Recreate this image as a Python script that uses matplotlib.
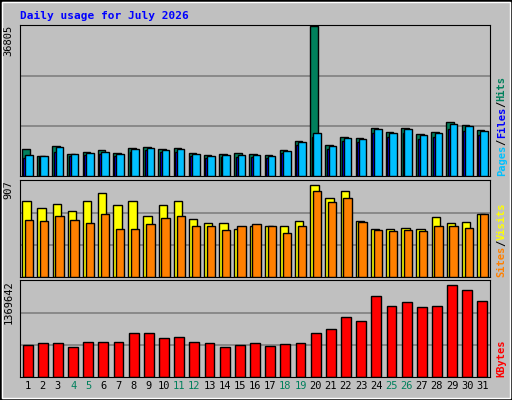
import matplotlib
matplotlib.use("Agg")
import matplotlib.pyplot as plt
import numpy as np

days = list(range(1, 32))
weekend = [4, 5, 11, 12, 18, 19, 25, 26]
hits = [6670, 4940, 7410, 5430, 5930, 6420, 5680, 6920, 7160, 6670, 6920, 5680, 5190, 5430, 5680, 5430, 5190, 6420, 8650, 36805, 7660, 9630, 9390, 11860, 10870, 11860, 10370, 10870, 13340, 12600, 11360]
files = [5190, 4940, 7160, 5430, 5680, 5930, 5430, 6670, 6920, 6420, 6670, 5430, 4940, 5190, 5190, 5190, 4940, 6170, 8400, 10620, 7410, 9390, 9140, 11610, 10620, 11610, 10130, 10620, 12850, 12350, 11120]
pages = [4500, 4700, 6000, 4900, 5100, 5300, 4900, 6000, 6300, 5800, 6000, 4900, 4500, 4700, 4700, 4700, 4500, 5600, 7600, 9500, 6700, 8500, 8300, 10500, 9600, 10500, 9200, 9600, 11600, 11200, 10100]
visits = [720, 655, 692, 627, 720, 795, 683, 720, 580, 683, 720, 552, 514, 514, 449, 486, 486, 477, 533, 869, 748, 813, 533, 449, 458, 467, 449, 570, 514, 524, 598]
sites = [542, 533, 580, 542, 514, 598, 449, 449, 496, 561, 580, 486, 477, 440, 477, 496, 477, 411, 486, 813, 711, 748, 524, 440, 430, 440, 430, 477, 477, 467, 598]
kbytes = [456547, 485080, 485080, 428014, 499347, 499347, 499347, 627745, 627745, 556411, 570678, 499347, 485080, 428014, 456547, 485080, 442281, 470814, 485080, 627745, 684811, 855999, 798933, 1155604, 1012937, 1070003, 998670, 1012937, 1312576, 1241243, 1084270]
max_hits, max_visits, max_kb = 36805, 907, 1369642

W, H = 512, 400
fig = plt.figure(figsize=(W/100, H/100), dpi=100, facecolor="#C0C0C0")
mono = "DejaVu Sans Mono"

# outer borders
fig.add_artist(plt.Rectangle((0, 0), 1, 1, transform=fig.transFigure, fill=False, ec="black", lw=2))
fig.add_artist(plt.Rectangle((2/W, 2/H), 1-4/W, 1-4/H, transform=fig.transFigure, fill=False, ec="white", lw=1))
fig.text(20/W, 1-16/H, "Daily usage for July 2026", color="#0000FF", fontsize=8, fontweight="bold", family=mono, va="center")

L, R = 20, 490
def mkax(top, bot):
    ax = fig.add_axes([L/W, 1-bot/H, (R-L)/W, (bot-top)/H])
    ax.set_facecolor("#C0C0C0")
    ax.set_xlim(0.5, 31.5)
    ax.set_xticks([])
    for s in ax.spines.values():
        s.set_color("black")
    ax.tick_params(left=False, labelleft=False)
    return ax

x = np.array(days)
ax1 = mkax(25, 176)
ax1.set_ylim(0, max_hits*1.01)
for g in (1/3, 2/3):
    ax1.axhline(max_hits*g, color="#808080", lw=1.2, zorder=0)
ax1.bar(x-0.12, hits, width=0.5, color="#00805C", ec="black", lw=1, zorder=2)
ax1.bar(x-0.02, pages, width=0.5, color="#0000FF", ec="black", lw=1, zorder=3)
ax1.bar(x+0.1, files, width=0.5, color="#00C0FF", ec="black", lw=1, zorder=4)

ax2 = mkax(180, 277)
ax2.set_ylim(0, max_visits*1.01)
for g in (1/3, 2/3):
    ax2.axhline(max_visits*g, color="#808080", lw=1.2, zorder=0)
ax2.bar(x-0.08, visits, width=0.55, color="#FFFF00", ec="black", lw=1, zorder=2)
ax2.bar(x+0.1, sites, width=0.55, color="#FF8000", ec="black", lw=1, zorder=3)

ax3 = mkax(280, 377)
ax3.set_ylim(0, max_kb*1.01)
for g in (1/3, 2/3):
    ax3.axhline(max_kb*g, color="#808080", lw=1.2, zorder=0)
ax3.bar(x, kbytes, width=0.65, color="#FF0000", ec="black", lw=1, zorder=2)
ax3.set_xticks(days)
ax3.set_xticklabels([str(d) for d in days], family=mono, fontsize=7.5)
ax3.tick_params(axis="x", length=0, pad=3)
for lab, d in zip(ax3.get_xticklabels(), days):
    lab.set_color("#00805C" if d in weekend else "black")

for ax, m in ((ax1, "36805"), (ax2, "907"), (ax3, "1369642")):
    ax.text(-0.025, 1.0, m, transform=ax.transAxes, rotation=90, ha="center", va="top", family=mono, fontsize=7.5)

def rlabel(ax, parts):
    y = 0.0
    fig.canvas.draw()
    for txt, col in parts:
        t = ax.text(1.025, y, txt, transform=ax.transAxes, rotation=90, ha="center", va="bottom",
                    color=col, family=mono, fontsize=7.5, fontweight="bold")
        bb = t.get_window_extent(fig.canvas.get_renderer())
        y += bb.height / ax.get_window_extent().height
rlabel(ax1, [("Pages", "#00C0FF"), ("/", "black"), ("Files", "#0000FF"), ("/", "black"), ("Hits", "#00805C")])
rlabel(ax2, [("Sites", "#FF8000"), ("/", "black"), ("Visits", "#FFFF00")])
rlabel(ax3, [("KBytes", "#FF0000")])

fig.savefig("out.png", dpi=100, facecolor=fig.get_facecolor())
